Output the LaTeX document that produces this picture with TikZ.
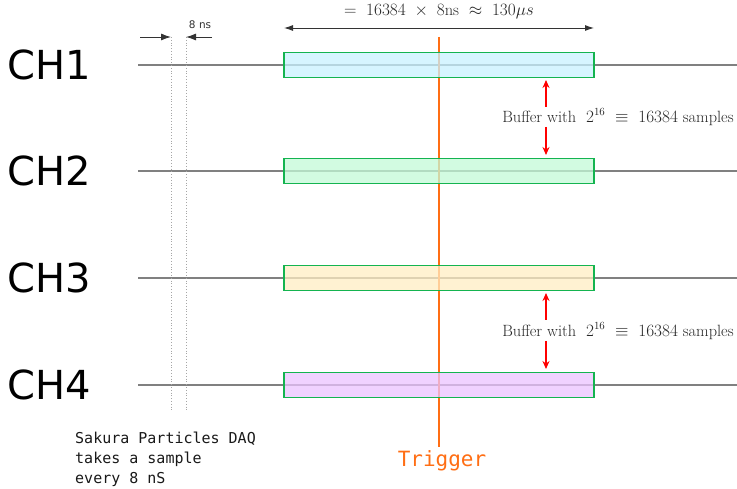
\documentclass[tikz,border=0pt]{standalone}
\usepackage{fontspec}
\newfontfamily\chfont{DejaVu Sans}
\newfontfamily\monofont{DejaVu Sans Mono}
\usetikzlibrary{arrows.meta}
\definecolor{boxgreen}{RGB}{20,180,80}
\definecolor{fillA}{RGB}{200,242,255}
\definecolor{fillB}{RGB}{195,250,215}
\definecolor{fillC}{RGB}{255,238,195}
\definecolor{fillD}{RGB}{235,195,255}
\definecolor{trig}{RGB}{255,110,20}
\definecolor{chline}{RGB}{128,128,128}
\tikzset{
  chlabel/.style={font=\chfont\fontsize{40}{40}\selectfont, anchor=west, inner sep=0pt},
  chwire/.style={chline, line width=1.2pt},
  bufbox/.style={draw=boxgreen, line width=1.6pt, fill opacity=0.75, minimum width=310pt, minimum height=25pt, inner sep=0pt},
  redarrow/.style={red, line width=1.3pt, -{Stealth[length=8pt,width=7pt]}},
  dimtip/.style={-{Latex[length=10pt,width=7pt]}},
  dim/.style={black!80, line width=0.9pt, {Latex[length=9pt,width=6pt]}-{Latex[length=9pt,width=6pt]}},
  dotv/.style={gray!70, line width=0.8pt, dotted},
  buftext/.style={font=\fontsize{16.3}{18}\selectfont, text=black!85},
}
\begin{document}
\begin{tikzpicture}[x=1pt,y=-1pt]
\useasboundingbox (0,0) rectangle (737,489);
% wires
\foreach \yy/\nm in {65/1,171/2,278/3,385/4}{
  \coordinate (wl\nm) at (138,\yy);
  \coordinate (wr\nm) at (737,\yy);
  \draw[chwire] (wl\nm) -- (wr\nm);
  \node[chlabel] (ch\nm) at (7,\yy) {CH\nm};
}
% dotted sample lines
\coordinate (d1t) at (171,37); \coordinate (d1b) at (171,412);
\coordinate (d2t) at (186,37); \coordinate (d2b) at (186,412);
\draw[dotv] (d1t) -- (d1b);
\draw[dotv] (d2t) -- (d2b);
% 8 ns dimension
\coordinate (sa) at (140,37); \coordinate (sb) at (212,37);
\draw[black!80, line width=0.9pt, dimtip] (sa) -- (d1t);
\draw[black!80, line width=0.9pt, dimtip] (sb) -- (d2t);
\node[font=\chfont\fontsize{10.5}{10.5}\selectfont, text=black!80] (ns) at (200,25) {8\,\,ns};
% trigger
\coordinate (tt) at (439,37); \coordinate (tb) at (439,447);
\draw[trig, line width=1.1pt] (tt) -- (tb);
\node[font=\monofont\fontsize{21}{21}\selectfont, text=trig] (trigtxt) at (442,461) {Trigger};
% boxes
\node[bufbox, fill=fillA] (b1) at (439,65) {};
\node[bufbox, fill=fillB] (b2) at (439,171) {};
\node[bufbox, fill=fillC] (b3) at (439,278) {};
\node[bufbox, fill=fillD] (b4) at (439,385) {};
% top dimension
\coordinate (ta) at (284,28); \coordinate (tbb) at (594,28);
\draw[dim] (ta) -- (tbb);
\node[font=\fontsize{16.4}{16.4}\selectfont, text=black!85] (toplab) at (439,12) {$=\ 16384\ \times\ 8\mathrm{ns}\ \approx\ 130\mu s$};
% buffer texts
\node[buftext] (buf1) at (618,117) {Buffer with\ \ $2^{16}\ \equiv\ 16384$ samples};
\node[buftext] (buf2) at (618,331) {Buffer with\ \ $2^{16}\ \equiv\ 16384$ samples};
\coordinate (r1a) at (546,107); \coordinate (r1b) at (546,80);
\coordinate (r1c) at (546,127); \coordinate (r1d) at (546,155);
\draw[redarrow] (r1a) -- (r1b);
\draw[redarrow] (r1c) -- (r1d);
\coordinate (r2a) at (546,320); \coordinate (r2b) at (546,293);
\coordinate (r2c) at (546,341); \coordinate (r2d) at (546,369);
\draw[redarrow] (r2a) -- (r2b);
\draw[redarrow] (r2c) -- (r2d);
% bottom text
\node[font=\monofont\fontsize{15}{20}\selectfont, align=left, anchor=north west, inner sep=0pt, text=black!90] (daq) at (75,432) {Sakura Particles DAQ\\takes a sample\\every 8 nS};
\end{tikzpicture}
\end{document}
